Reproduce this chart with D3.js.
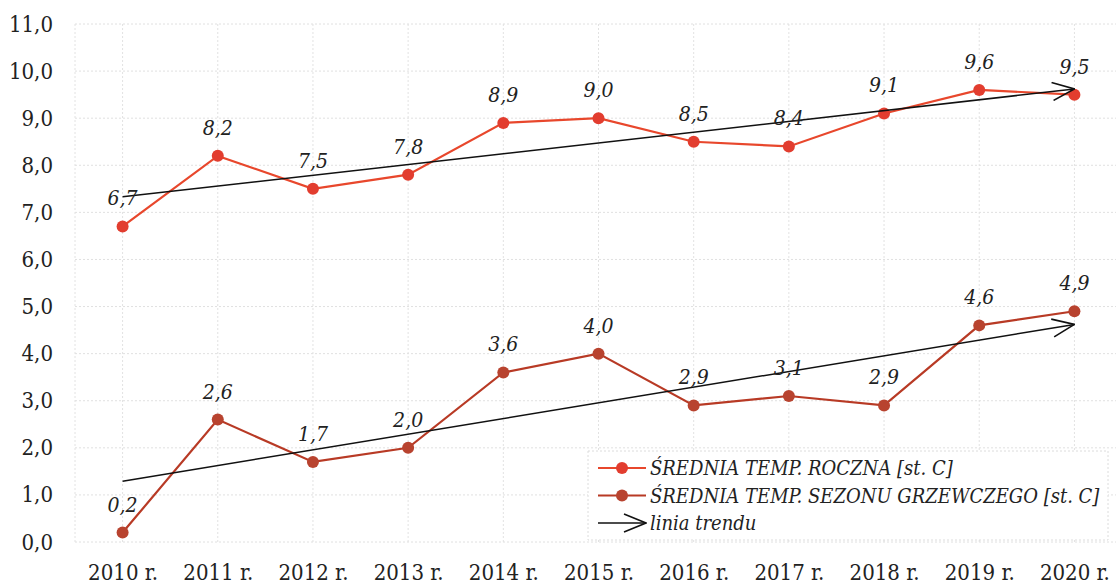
<!DOCTYPE html>
<html>
<head>
<meta charset="utf-8">
<script src="https://cdn.jsdelivr.net/npm/d3@7"></script>
<style>
  body { margin: 0; background: #fff; }
  svg { display: block; }
</style>
</head>
<body>
<svg id="chart"></svg>
<script>
// data
const years = ["2010 r.", "2011 r.", "2012 r.", "2013 r.", "2014 r.", "2015 r.", "2016 r.", "2017 r.", "2018 r.", "2019 r.", "2020 r."];
const annualTemp = [6.7, 8.2, 7.5, 7.8, 8.9, 9.0, 8.5, 8.4, 9.1, 9.6, 9.5];
const heatingTemp = [0.2, 2.6, 1.7, 2.0, 3.6, 4.0, 2.9, 3.1, 2.9, 4.6, 4.9];
// trend line ends (first year, last year)
const annualTrend = [7.33, 9.62];
const heatingTrend = [1.29, 4.62];
const yTicks = [0, 1, 2, 3, 4, 5, 6, 7, 8, 9, 10, 11];
const legendItems = ["ŚREDNIA TEMP. ROCZNA [st. C]", "ŚREDNIA TEMP. SEZONU GRZEWCZEGO [st. C]", "linia trendu"];

const width = 1116;
const height = 585;
const margin = {left: 75, right: -6, top: 24, bottom: 43};

const font = "'DejaVu Serif Condensed', 'DejaVu Serif', serif";
const annualLine = "#e8472c", annualDot = "#e23d2f";
const heatLine = "#b83a25", heatDot = "#b8432f";
const fmt = v => v.toFixed(1).replace(".", ",");

var svg = d3.select("#chart").attr("width", width).attr("height", height)
    .style("font-family", font);

var x = d3.scalePoint()
    .domain(years)
    .range([margin.left, width - margin.right])
    .padding(0.5);

var y = d3.scaleLinear()
    .domain([0, 11])
    .range([height - margin.bottom, margin.top]);

// grid
svg.append("g")
    .selectAll("line")
    .data(yTicks)
    .enter().append("line")
    .attr("x1", margin.left).attr("x2", width)
    .attr("y1", d => y(d)).attr("y2", d => y(d))
    .attr("stroke", "#e0e0e0")
    .attr("stroke-dasharray", "2,2");

svg.append("g")
    .selectAll("line")
    .data([margin.left].concat(years.map(d => x(d))))
    .enter().append("line")
    .attr("x1", d => d).attr("x2", d => d)
    .attr("y1", y(0)).attr("y2", y(11))
    .attr("stroke", "#e2e2e2")
    .attr("stroke-dasharray", "2,2");

// axes (text only)
var yAxis = svg.append("g")
    .attr("transform", "translate(" + (margin.left - 22) + ",0)")
    .call(d3.axisLeft(y).tickValues(yTicks).tickFormat(fmt).tickSize(0).tickPadding(0));
yAxis.select(".domain").remove();
yAxis.selectAll("text").style("font-size", "22px").style("font-family", font).attr("fill", "#222");

var xAxis = svg.append("g")
    .attr("transform", "translate(0," + (y(0) + 22) + ")")
    .call(d3.axisBottom(x).tickSize(0).tickPadding(0));
xAxis.select(".domain").remove();
xAxis.selectAll("text").style("font-size", "22px").style("font-family", font).attr("fill", "#222");

// arrow marker (open chevron)
svg.append("defs").append("marker")
    .attr("id", "arrow")
    .attr("viewBox", "0 0 24 20")
    .attr("refX", 23).attr("refY", 10)
    .attr("markerWidth", 24).attr("markerHeight", 20)
    .attr("markerUnits", "userSpaceOnUse")
    .attr("orient", "auto")
    .append("path")
    .attr("d", "M1,1 L23,10 L1,19")
    .attr("fill", "none")
    .attr("stroke", "#111")
    .attr("stroke-width", 1.6);

var line = d3.line()
    .x((d, i) => x(years[i]))
    .y(d => y(d));

function drawSeries(vals, lc, dc) {
    svg.append("path")
        .datum(vals)
        .attr("d", line)
        .attr("fill", "none")
        .attr("stroke", lc)
        .attr("stroke-width", 2.2);
    svg.append("g")
        .selectAll("circle")
        .data(vals)
        .enter().append("circle")
        .attr("cx", (d, i) => x(years[i]))
        .attr("cy", d => y(d))
        .attr("r", 6)
        .attr("fill", dc);
}

function drawTrend(t) {
    svg.append("line")
        .attr("x1", x(years[0])).attr("y1", y(t[0]))
        .attr("x2", x(years[years.length - 1])).attr("y2", y(t[1]))
        .attr("stroke", "#111")
        .attr("stroke-width", 1.5)
        .attr("marker-end", "url(#arrow)");
}

function drawLabels(vals) {
    svg.append("g")
        .selectAll("text")
        .data(vals)
        .enter().append("text")
        .attr("x", (d, i) => x(years[i]))
        .attr("y", d => y(d) - 21)
        .attr("text-anchor", "middle")
        .style("font-size", "21px")
        .style("font-style", "italic")
        .attr("fill", "#222")
        .text(fmt);
}

drawSeries(annualTemp, annualLine, annualDot);
drawSeries(heatingTemp, heatLine, heatDot);
drawTrend(annualTrend);
drawTrend(heatingTrend);
drawLabels(annualTemp);
drawLabels(heatingTemp);

// legend
var lg = svg.append("g").attr("transform", "translate(588,451)");
lg.append("rect")
    .attr("width", 520).attr("height", 89)
    .attr("fill", "#fff")
    .attr("stroke", "#dcdcdc")
    .attr("stroke-dasharray", "2,2");

var rows = lg.selectAll("g.row")
    .data(legendItems)
    .enter().append("g")
    .attr("class", "row")
    .attr("transform", (d, i) => "translate(10," + (17 + i * 27.5) + ")");

rows.each(function(d, i) {
    var g = d3.select(this);
    if (i < 2) {
        g.append("line").attr("x1", 0).attr("x2", 48).attr("y1", 0).attr("y2", 0)
            .attr("stroke", i == 0 ? annualLine : heatLine).attr("stroke-width", 2.2);
        g.append("circle").attr("cx", 24).attr("cy", 0).attr("r", 6)
            .attr("fill", i == 0 ? annualDot : heatDot);
    } else {
        g.append("line").attr("x1", 0).attr("x2", 48).attr("y1", 0).attr("y2", 0)
            .attr("stroke", "#111").attr("stroke-width", 1.5)
            .attr("marker-end", "url(#arrow)");
    }
    g.append("text")
        .attr("x", 52).attr("y", 0)
        .attr("dy", "0.35em")
        .style("font-size", "20px")
        .style("font-style", "italic")
        .attr("fill", "#222")
        .text(d);
});
</script>
</body>
</html>
